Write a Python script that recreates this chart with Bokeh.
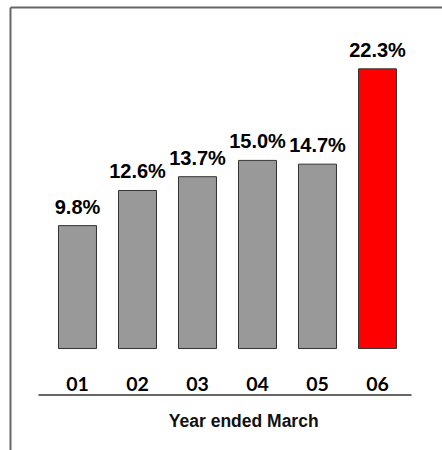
from bokeh.plotting import figure
from bokeh.models import Range1d, LinearAxis, FixedTicker, ColumnDataSource
from bokeh.core.properties import value
from bokeh.embed import file_html
from bokeh.resources import INLINE

# ---- data ----
categories = ["01", "02", "03", "04", "05", "06"]
rates = [9.8, 12.6, 13.7, 15.0, 14.7, 22.3]
labels = ["9.8%", "12.6%", "13.7%", "15.0%", "14.7%", "22.3%"]
colors = ["#999999", "#999999", "#999999", "#999999", "#999999", "#ff0000"]
axis_title = "Year ended March"

xs = list(range(len(categories)))
src = ColumnDataSource(dict(x=xs, cat=categories, rate=rates, lab=labels, color=colors,
                            zero=[0] * len(xs)))

p = figure(width=442, height=450, output_backend="svg", toolbar_location=None,
           x_range=Range1d(-1.1167, 6.0833), y_range=Range1d(-8.13, 27.19),
           x_axis_type=None, y_axis_type=None,
           min_border_left=10, min_border_top=7, min_border_right=0, min_border_bottom=0)
p.outline_line_color = None
p.grid.visible = False
p.background_fill_color = "white"
p.border_fill_color = "white"

# border lines (left and top) drawn as empty axes
for loc in ("left", "above"):
    ax = LinearAxis(ticker=FixedTicker(ticks=[]), axis_line_color="#666666", axis_line_width=2,
                    major_tick_line_color=None, minor_tick_line_color=None,
                    major_label_text_font_size="0px")
    p.add_layout(ax, loc)

p.vbar(x="x", top="rate", bottom=0, width=0.633, source=src, fill_color="color",
       line_color="#333333", line_width=1)

p.text(x="x", y="rate", text="lab", source=src, text_align="center", text_baseline="alphabetic",
       y_offset=-19, text_font=value("Liberation Sans"), text_font_style="bold",
       text_font_size="20px", text_color="black")

p.text(x="x", y="zero", text="cat", source=src, text_align="center", text_baseline="alphabetic",
       y_offset=35, text_font=value("Lato"), text_font_style="bold",
       text_font_size="19.5px", text_color="black")

# separator line under category labels
p.segment(x0=[-0.65], y0=[-3.7], x1=[5.567], y1=[-3.7], line_color="#666666", line_width=2)

p.text(x=[(xs[0] + xs[-1]) / 2 + 0.27], y=[-3.7], text=[axis_title], text_align="center",
       text_baseline="alphabetic", y_offset=26, text_font=value("Liberation Sans"),
       text_font_style="bold", text_font_size="17.5px", text_color="#111111")

open("out.html", "w").write(file_html(p, INLINE))
